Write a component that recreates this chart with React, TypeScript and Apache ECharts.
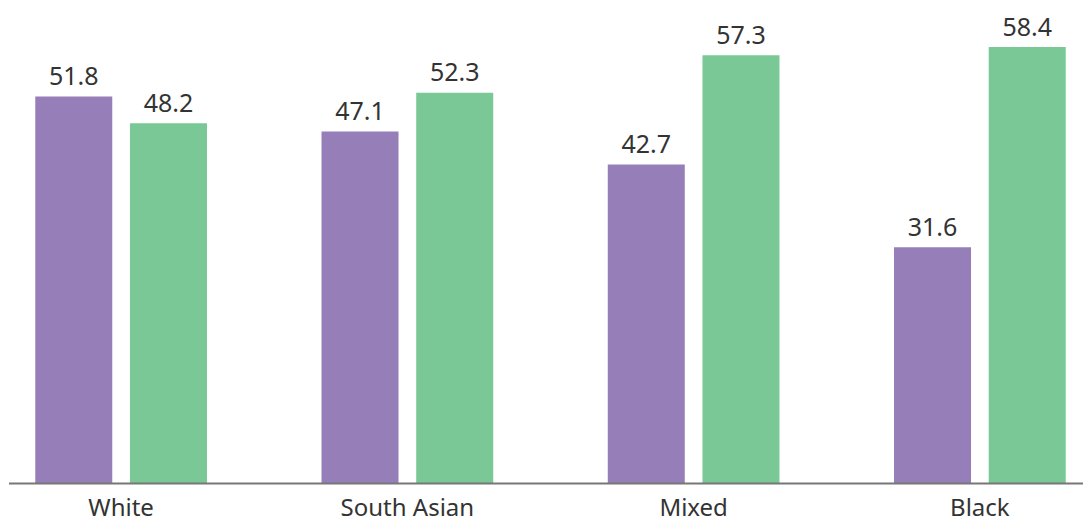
import React, { useEffect, useRef } from "react";
import * as echarts from "echarts";

const categories = ["White", "South Asian", "Mixed", "Black"];
const seriesA = [51.8, 47.1, 42.7, 31.6];
const seriesB = [48.2, 52.3, 57.3, 58.4];

export default function App() {
  const ref = useRef<HTMLDivElement>(null);
  useEffect(() => {
    const chart = echarts.init(ref.current!, null, { renderer: "svg" });
    const font = "'Noto Sans', sans-serif";
    chart.setOption({
      animation: false,
      grid: { left: 0, right: 0, top: 0, bottom: 39.5, containLabel: false },
      xAxis: {
        type: "category",
        data: categories,
        axisLine: { show: false },
        axisTick: { show: false },
        axisLabel: { color: "#333", fontSize: 24, lineHeight: 24, fontFamily: font, margin: 11 },
      },
      yAxis: { type: "value", min: 0, max: 64.7, show: false, splitLine: { show: false } },
      graphic: [
        {
          type: "line",
          shape: { x1: 31, y1: 483.5, x2: 1105, y2: 483.5 },
          style: { stroke: "#777", lineWidth: 2 },
          z: 10,
        },
      ],
      series: [
        {
          type: "bar",
          data: seriesA,
          barWidth: 77,
          barGap: "23%",
          itemStyle: { color: "#967EB8" },
          label: { show: true, position: "top", distance: 9, color: "#333", fontSize: 25, fontFamily: font },
        },
        {
          type: "bar",
          data: seriesB,
          barWidth: 77,
          barGap: "23%",
          itemStyle: { color: "#79C896" },
          label: { show: true, position: "top", distance: 9, color: "#333", fontSize: 25, fontFamily: font },
        },
      ],
    });
    return () => chart.dispose();
  }, []);
  return (
    <div style={{ position: "absolute", left: 0, top: 0, width: 1083, height: 523, overflow: "hidden" }}>
      <div ref={ref} style={{ width: 1145, height: 523, position: "absolute", left: -22, top: 0 }} />
    </div>
  );
}
